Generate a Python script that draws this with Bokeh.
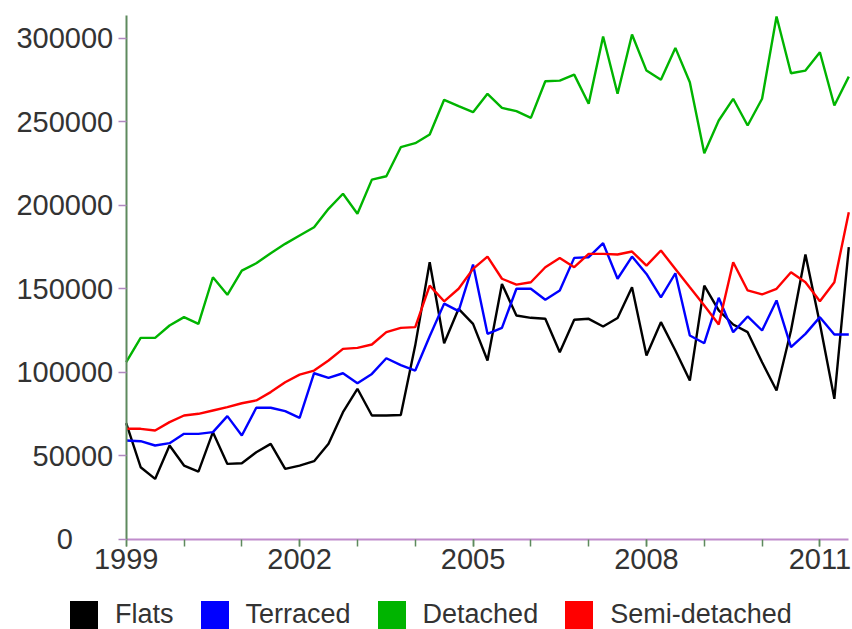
from bokeh.plotting import figure
from bokeh.models import Range1d, FixedTicker, BasicTickFormatter, Legend, LegendItem
from bokeh.embed import file_html
from bokeh.resources import INLINE

# ---- data (quarterly, 1999 Q1 .. 2011 Q3) ----
flats = [69400, 43000, 36000, 56000, 44000, 40400, 64000, 45000, 45400, 52000,
         57000, 42000, 44000, 46600, 57000, 76000, 90000, 74000, 74000, 74300,
         116000, 165800, 117300, 137900, 128900, 106900, 152800, 133900, 132500, 131900,
         111900, 131300, 131900, 127300, 132400, 150800, 109900, 129900, 112900, 94900,
         151800, 136900, 128500, 123900, 105900, 89000, 124900, 170400, 128900, 84000,
         174800]
terraced = [59000, 58600, 56000, 57400, 63000, 63000, 64000, 73600, 62000, 78600,
            78600, 76600, 72600, 99300, 96500, 99300, 93300, 98900, 108300, 104200,
            100900, 121500, 141000, 136500, 164400, 122900, 126500, 149900, 149900, 143300,
            148900, 168400, 168800, 177200, 155900, 169200, 158800, 144800, 159200, 121900,
            117300, 144500, 123900, 133300, 124900, 142900, 114900, 122900, 132900, 122500,
            122500]
detached = [105900, 120500, 120500, 127900, 132900, 128900, 156800, 146300, 160800, 165200,
            171200, 176800, 181800, 186800, 197800, 206800, 194800, 215300, 217300, 234700,
            237100, 242300, 263100, 259300, 255700, 266700, 258300, 256300, 252300, 274200,
            274600, 278200, 260700, 301000, 266700, 302200, 280600, 275100, 294200, 273600,
            231100, 250700, 263700, 247700, 263700, 313000, 279000, 280600, 291600, 259700,
            277000]
semi_detached = [66000, 66000, 65000, 70000, 74000, 75000, 77000, 79000, 81300, 83000,
                 88000, 93900, 98500, 100900, 106900, 113900, 114500, 116500, 123900, 126500,
                 126900, 151800, 142400, 149900, 161800, 169200, 155900, 152400, 153800, 162800,
                 168400, 162800, 170800, 170800, 170400, 172200, 163800, 172800, 161800, 150800,
                 139900, 128500, 165800, 148900, 146500, 149900, 159800, 153800, 142400, 153800,
                 195700]

series_names = ["Flats", "Terraced", "Detached", "Semi-detached"]
series_colors = ["#000000", "#0000ff", "#00b400", "#ff0000"]
series_values = [flats, terraced, detached, semi_detached]

start_year = 1999
x_quarters = [start_year + i / 4 for i in range(len(flats))]

year_ticks = list(range(1999, 2012))
labelled_years = [1999, 2002, 2005, 2008, 2011]
y_ticks = [0, 50000, 100000, 150000, 200000, 250000, 300000]

FONT = "Liberation Sans"

# ---- geometry: the frame covers the whole canvas; axes are pinned in place ----
W, H = 852, 629
X0, X1, X_LEFT_PX, X_RIGHT_PX = 1999.0, 2011.5, 125.7, 848.3
Y0, Y1, Y_BOTTOM_PX, Y_TOP_PX = 0.0, 313600.0, 538.5, 15.0
x_per_px = (X1 - X0) / (X_RIGHT_PX - X_LEFT_PX)
y_per_px = (Y1 - Y0) / (Y_BOTTOM_PX - Y_TOP_PX)
x_range = Range1d(X0 - X_LEFT_PX * x_per_px, X1 + (W - X_RIGHT_PX) * x_per_px)
y_range = Range1d(Y0 - (H - Y_BOTTOM_PX) * y_per_px, Y1 + Y_TOP_PX * y_per_px)

p = figure(width=W, height=H, x_range=x_range, y_range=y_range,
           output_backend="svg", toolbar_location=None,
           min_border_left=0, min_border_right=0, min_border_top=0, min_border_bottom=0)
p.outline_line_color = None
p.xgrid.visible = False
p.ygrid.visible = False
p.background_fill_color = "white"
p.border_fill_color = "white"

for name, color, vals in zip(series_names, series_colors, series_values):
    p.line(x_quarters, vals, line_color=color, line_width=2.4)

# y axis
yax = p.yaxis[0]
yax.fixed_location = X0
yax.bounds = (Y0, Y1)
yax.ticker = FixedTicker(ticks=y_ticks, minor_ticks=[])
yax.formatter = BasicTickFormatter(use_scientific=False)
yax.major_label_overrides = {0: "0\u2007\u2007\u2008"}
yax.axis_line_color = "#5e8a5e"
yax.axis_line_width = 2
yax.major_tick_line_color = "#b088c0"
yax.major_tick_line_width = 1.5
yax.major_tick_out = 8
yax.major_tick_in = 0
yax.minor_tick_line_color = None
yax.major_label_standoff = 5
yax.major_label_text_font = FONT
yax.major_label_text_font_size = "29px"
yax.major_label_text_color = "#333333"

# x axis
xax = p.xaxis[0]
xax.fixed_location = Y0
xax.bounds = (X0, X1)
xax.ticker = FixedTicker(ticks=labelled_years, minor_ticks=year_ticks)
xax.formatter = BasicTickFormatter(use_scientific=False)
xax.axis_line_color = "#c08ccc"
xax.axis_line_width = 2
xax.major_tick_line_color = "#5e8a5e"
xax.minor_tick_line_color = "#5e8a5e"
xax.major_tick_line_width = 1.5
xax.minor_tick_line_width = 1.5
xax.major_tick_out = 7
xax.major_tick_in = 0
xax.minor_tick_out = 7
xax.minor_tick_in = 0
xax.major_label_standoff = 3
xax.major_label_text_font = FONT
xax.major_label_text_font_size = "29px"
xax.major_label_text_color = "#333333"

# ---- legend (square swatches) ----
items = []
for name, color, vals in zip(series_names, series_colors, series_values):
    proxy = p.quad(left=x_quarters[:1], right=x_quarters[:1], bottom=vals[:1], top=vals[:1],
                   fill_color=color, line_color=None)
    proxy.visible = False
    items.append(LegendItem(label=name, renderers=[proxy]))

legend = Legend(items=items, location=(66, -3), orientation="horizontal",
                glyph_width=35, glyph_height=35, spacing=23, label_standoff=14,
                padding=0, margin=0, border_line_color=None, background_fill_alpha=0,
                inactive_fill_alpha=0,
                label_text_font=FONT, label_text_font_size="27px", label_text_color="#333333")
p.add_layout(legend, "center")

open("out.html", "w").write(file_html(p, INLINE))
